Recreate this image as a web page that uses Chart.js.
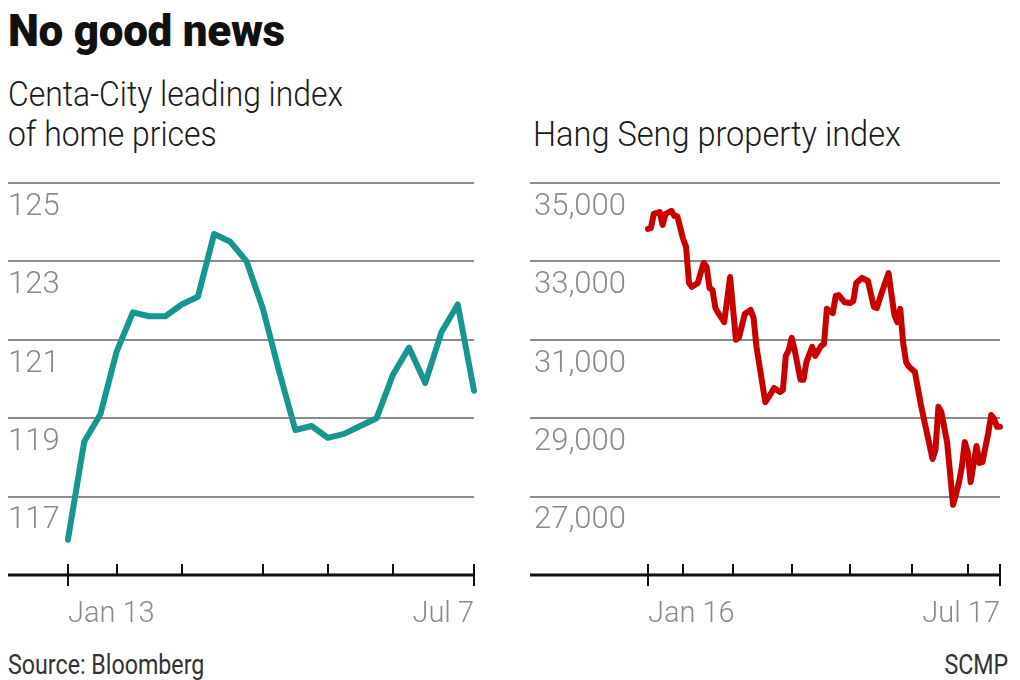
<!DOCTYPE html>
<html>
<head>
<meta charset="utf-8">
<script src="https://cdn.jsdelivr.net/npm/chart.js@4/dist/chart.umd.min.js"></script>
<style>
  body { margin: 0; width: 1020px; height: 680px; background: #fff; position: relative; overflow: hidden; }
  .txt { position: absolute; white-space: nowrap; font-family: Roboto, sans-serif; color: #1a1a1a; }
  #title { left: 8px; top: 9px; font: 900 44px/44px Roboto, sans-serif; color: #111; letter-spacing: -0.3px; }
  .sub { font-size: 35px; line-height: 40px; font-weight: 300; transform-origin: 0 0; }
  #subLeft { left: 8px; top: 75px; transform: scaleX(0.91); }
  #subRight { left: 533px; top: 115px; transform: scaleX(0.93); }
  .foot { font-size: 27px; line-height: 27px; top: 652px; color: #333; transform: scaleX(0.86); }
  #source { left: 8px; transform-origin: 0 0; }
  #credit { right: 12px; transform-origin: 100% 0; }
  canvas { position: absolute; top: 160px; }
  #ccChart { left: 0; }
  #hsChart { left: 520px; }
</style>
</head>
<body>
<div id="title" class="txt">No good news</div>
<div id="subLeft" class="txt sub">Centa-City leading index<br>of home prices</div>
<div id="subRight" class="txt sub">Hang Seng property index</div>
<div id="source" class="txt foot">Source: Bloomberg</div>
<div id="credit" class="txt foot">SCMP</div>
<canvas id="ccChart" width="500" height="480"></canvas>
<canvas id="hsChart" width="500" height="480"></canvas>
<script>
// Centa-City leading index, weekly, Jan 13 - Jul 7 (week number from Jan 13)
const ccWeek = [0, 1, 2, 3, 4, 5, 6, 7, 8, 9, 10, 11, 12, 13, 14, 15, 16, 17, 18, 19, 20, 21, 22, 23, 24, 25];
const ccValue = [115.9, 118.4, 119.1, 120.7, 121.7, 121.6, 121.6, 121.9, 122.1, 123.7, 123.5, 123.0, 121.8,
  120.2, 118.7, 118.8, 118.5, 118.6, 118.8, 119.0, 120.1, 120.8, 119.9, 121.2, 121.9, 119.7];
const ccTickWeeks = [0, 3, 7, 12, 16, 20, 25];
const ccTickLabels = ['Jan 13', '', '', '', '', '', 'Jul 7'];
const ccYTicks = [117, 119, 121, 123, 125];

// Hang Seng property index, trading days from Jan 16 to Jul 17
const hsDay = [0, 1, 2, 4, 5, 6, 8, 9, 10, 12, 13, 14, 15, 17, 19, 20, 21, 22, 23, 24, 26, 28, 30, 31, 33, 35, 36, 37,
  40, 42, 43, 45, 46, 47, 48, 49, 50, 52, 53, 54, 56, 57, 59, 60, 61, 63, 64, 65, 67, 69, 70, 71, 73, 75, 77, 78,
  80, 82, 84, 85, 86, 87, 88, 89, 91, 93, 94, 97, 98, 99, 100, 102, 104, 106, 107, 108, 109, 110, 112, 113, 114,
  116, 117, 118, 119, 120];
const hsValue = [33830, 33850, 34210, 34260, 33930, 34210, 34290, 34160, 34150, 33570, 33370, 32450, 32350, 32450,
  32960, 32860, 32320, 32270, 31810, 31680, 31450, 32600, 31000, 31050, 31660, 31760, 31560, 30820,
  29410, 29640, 29770, 29670, 29720, 30590, 30740, 31050, 30740, 29980, 29980, 30430, 30820, 30590, 30840, 30890,
  31790, 31680, 32120, 32140, 31960, 31940, 31990, 32450, 32580, 32500, 31840, 31810,
  32270, 32700, 31630, 31450, 31790, 30920, 30430, 30310, 30180, 29360, 29000, 27960, 28190, 29290, 29160, 28370,
  26790, 27350, 27760, 28390, 28140, 27370, 28290, 27860, 27880, 28620, 29080, 28980, 28780, 28780];
const hsTickDays = [0, 12, 29, 49, 69, 90, 109, 120];
const hsTickLabels = ['Jan 16', '', '', '', '', '', '', 'Jul 17'];
const hsYTicks = [27000, 29000, 31000, 33000, 35000];

// black base line with month ticks; the two end ticks cross the line
const axisMarks = {
  id: 'axisMarks',
  afterDraw(chart, args, opts) {
    const { ctx, chartArea: { left, right, bottom } } = chart;
    const xs = chart.scales.x;
    ctx.save();
    ctx.strokeStyle = '#111';
    ctx.lineWidth = 2;
    opts.ticks.forEach((v, i) => {
      const px = Math.round(xs.getPixelForValue(v));
      const end = i === 0 || i === opts.ticks.length - 1;
      ctx.beginPath();
      ctx.moveTo(px, bottom - 11);
      ctx.lineTo(px, end ? bottom + 11 : bottom);
      ctx.stroke();
    });
    ctx.lineWidth = 3;
    ctx.beginPath();
    ctx.moveTo(left, bottom);
    ctx.lineTo(right, bottom);
    ctx.stroke();
    ctx.restore();
  }
};

function makeChart(id, xs, ys, color, cfg) {
  return new Chart(document.getElementById(id), {
    type: 'line',
    data: {
      datasets: [{
        data: xs.map((x, i) => ({ x: x, y: ys[i] })),
        borderColor: color,
        borderWidth: 6,
        borderJoinStyle: 'round',
        borderCapStyle: 'round',
        pointRadius: 0,
        tension: 0,
        clip: false
      }]
    },
    options: {
      responsive: false,
      animation: false,
      events: [],
      layout: { autoPadding: false, padding: cfg.padding },
      plugins: { legend: { display: false }, tooltip: { enabled: false }, axisMarks: { ticks: cfg.xTicks } },
      scales: {
        x: {
          type: 'linear',
          min: cfg.xMin,
          max: cfg.xMax,
          grid: { display: false },
          border: { display: false },
          afterBuildTicks: s => { s.ticks = cfg.xTicks.map(v => ({ value: v })); },
          afterFit: s => { s.height = 65; },
          ticks: {
            autoSkip: false,
            maxRotation: 0,
            align: 'inner',
            padding: 14,
            color: '#8a8a8a',
            font: { family: 'Roboto', size: 29, weight: '300' },
            callback: (v, i) => cfg.xLabels[i]
          }
        },
        y: {
          min: cfg.yMin,
          max: cfg.yMax,
          grid: { color: '#8c8c8c', lineWidth: 2, drawTicks: false },
          border: { display: false },
          afterBuildTicks: s => { s.ticks = cfg.yTicks.map(v => ({ value: v })); },
          afterFit: s => { s.width = 0; },
          ticks: {
            mirror: true,
            crossAlign: 'near',
            padding: cfg.labelPad,
            labelOffset: 24,
            color: '#8a8a8a',
            font: { family: 'Roboto', size: 31, weight: '300' },
            callback: v => v.toLocaleString('en-US')
          }
        }
      }
    },
    plugins: [axisMarks]
  });
}

makeChart('ccChart', ccWeek, ccValue, '#17968f', {
  padding: { left: 8, right: 26, top: 23, bottom: 0 },
  xMin: -3.69, xMax: 25, yMin: 115, yMax: 125,
  xTicks: ccTickWeeks, xLabels: ccTickLabels, yTicks: ccYTicks, labelPad: 0
});

makeChart('hsChart', hsDay, hsValue, '#c90000', {
  padding: { left: 10, right: 20, top: 23, bottom: 0 },
  xMin: -40.2, xMax: 120, yMin: 25000, yMax: 35000,
  xTicks: hsTickDays, xLabels: hsTickLabels, yTicks: hsYTicks, labelPad: 4
});
</script>
</body>
</html>
